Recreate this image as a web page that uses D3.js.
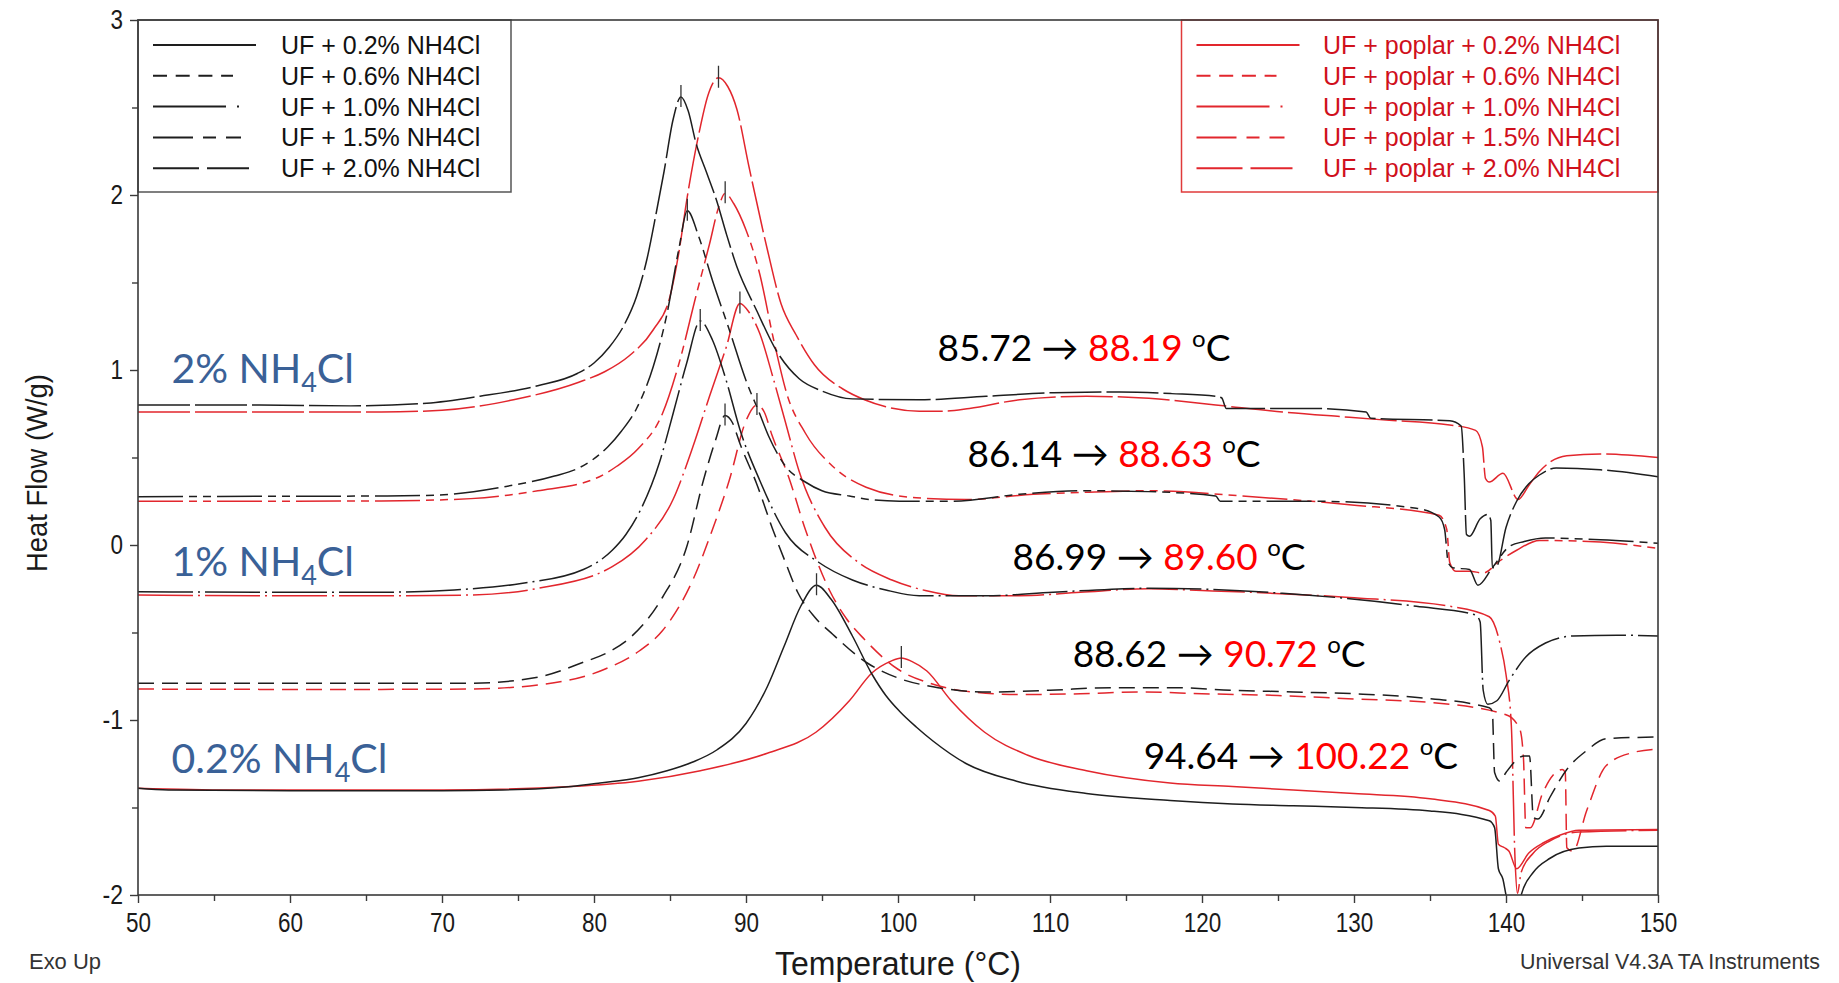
<!DOCTYPE html>
<html>
<head>
<meta charset="utf-8">
<script src="https://cdn.jsdelivr.net/npm/d3@7"></script>
<style>
  body { margin: 0; background: #fff; }
  svg { display: block; }
</style>
</head>
<body>
<div id="chart"></div>
<script>
// ---- data: [temperature °C, heat flow W/g] ----
const uf02 = [[50,-1.39],[52,-1.40],[60,-1.404],[70,-1.404],[74,-1.40],[78.5,-1.38],[80.4,-1.36],[82.9,-1.33],[84.8,-1.29],[86.5,-1.24],[88.1,-1.17],[90.0,-1.02],[91.4,-0.81],[92.5,-0.58],[93.6,-0.35],[94.64,-0.23],[95.6,-0.31],[97,-0.52],[98.3,-0.74],[99.2,-0.86],[100.1,-0.95],[101.2,-1.04],[102.3,-1.12],[104.5,-1.25],[107.8,-1.35],[112.4,-1.42],[117.9,-1.46],[122,-1.48],[126,-1.49],[130,-1.50],[135,-1.52],[138.9,-1.576],[139.25,-1.615],[139.5,-1.85],[139.8,-1.91],[140.0,-2.0],[140.3,-2.1],[140.8,-2.1],[141.0,-2.0],[141.8,-1.87],[142.9,-1.79],[144.8,-1.732],[146.6,-1.722],[150,-1.722]];
const uf06 = [[50,-0.79],[58,-0.79],[66,-0.79],[71.9,-0.79],[76.3,-0.755],[79.3,-0.67],[81,-0.61],[82.5,-0.52],[84.5,-0.30],[86.1,-0.01],[87.2,0.37],[88.0,0.60],[88.62,0.74],[89.1,0.70],[89.6,0.58],[90.7,0.35],[91.8,0.08],[92.6,-0.10],[93.4,-0.27],[94.5,-0.41],[95.7,-0.51],[97.9,-0.67],[100,-0.76],[102.3,-0.81],[106,-0.84],[110,-0.83],[114,-0.815],[118,-0.815],[122,-0.83],[126,-0.84],[130,-0.85],[134,-0.87],[138.9,-0.93],[139.1,-0.95],[139.25,-1.30],[139.6,-1.35],[140,-1.30],[141.2,-1.205],[141.55,-1.205],[141.8,-1.556],[142.1,-1.566],[142.9,-1.44],[144.0,-1.283],[145.3,-1.175],[146.6,-1.107],[150,-1.097]];
const uf10 = [[50,-0.267],[58,-0.27],[66,-0.27],[70.8,-0.257],[75.2,-0.22],[79.3,-0.14],[81.2,-0.03],[82.1,0.06],[83.0,0.19],[84.3,0.47],[85.2,0.75],[86.1,1.04],[86.99,1.28],[87.8,1.17],[88.7,0.94],[89.6,0.66],[90.9,0.37],[92.6,0.07],[94.8,-0.10],[97,-0.20],[99.2,-0.257],[101.4,-0.29],[105.8,-0.29],[110.2,-0.27],[116.5,-0.247],[125.3,-0.276],[134.1,-0.35],[138.0,-0.40],[138.3,-0.44],[138.5,-0.83],[138.8,-0.91],[139.4,-0.89],[140.2,-0.775],[141.3,-0.64],[142.6,-0.56],[144.4,-0.52],[147.3,-0.515],[150,-0.52]];
const uf15 = [[50,0.276],[58,0.278],[66,0.28],[69.7,0.285],[74.1,0.333],[77.4,0.394],[79.0,0.44],[80.9,0.56],[81.8,0.65],[82.8,0.78],[83.9,1.02],[84.8,1.32],[85.6,1.70],[86.14,1.91],[86.9,1.76],[87.8,1.51],[88.9,1.23],[90.0,0.94],[90.9,0.75],[91.5,0.62],[92.6,0.45],[93.9,0.36],[95,0.31],[96.8,0.28],[98.1,0.26],[100.1,0.25],[103.6,0.25],[108,0.29],[112.4,0.31],[116.5,0.305],[120.9,0.28],[121.2,0.25],[127.5,0.25],[134.1,0.21],[135.6,0.16],[135.96,0.09],[136.2,-0.10],[136.5,-0.13],[137.6,-0.14],[138.15,-0.23],[139.1,-0.13],[140.2,-0.01],[141.2,0.02],[142.6,0.04],[146.2,0.03],[150,0.01]];
const uf20 = [[50,0.80],[58,0.80],[64,0.795],[69,0.81],[72.5,0.85],[76.3,0.91],[78.9,0.98],[80.0,1.04],[81.0,1.13],[82.0,1.26],[82.8,1.42],[83.5,1.64],[84.1,1.90],[84.6,2.13],[85.2,2.43],[85.72,2.56],[86.2,2.48],[86.7,2.30],[87.4,2.13],[88.06,1.97],[88.7,1.78],[89.4,1.59],[90.7,1.34],[92.0,1.11],[93.5,0.95],[95,0.88],[97,0.835],[101.4,0.83],[105.8,0.85],[110.2,0.87],[114.6,0.875],[118,0.865],[121,0.848],[121.3,0.84],[121.6,0.78],[127.5,0.78],[130.8,0.76],[131.1,0.724],[136.3,0.71],[137.05,0.68],[137.25,0.40],[137.4,0.06],[137.6,0.05],[138.3,0.15],[138.8,0.175],[139.0,0.14],[139.1,-0.13],[139.4,-0.12],[140.0,0.10],[140.7,0.25],[141.5,0.35],[142.2,0.40],[143.3,0.44],[146.2,0.43],[150,0.39]];

const pop02 = [[50,-1.39],[56,-1.40],[70,-1.40],[78.5,-1.38],[82.9,-1.35],[87,-1.29],[91.4,-1.19],[94.6,-1.07],[96.8,-0.89],[98.3,-0.73],[99.5,-0.665],[100.22,-0.645],[100.9,-0.665],[101.9,-0.72],[103.5,-0.89],[105.7,-1.07],[108.5,-1.20],[112.4,-1.29],[117.9,-1.36],[122,-1.38],[126,-1.40],[130,-1.42],[135,-1.45],[138.9,-1.517],[139.3,-1.55],[139.5,-1.71],[139.9,-1.73],[140.2,-1.75],[140.7,-1.85],[141.5,-1.76],[142.5,-1.70],[143.5,-1.66],[144.8,-1.63],[150,-1.625]];
const pop06 = [[50,-0.823],[58,-0.825],[66,-0.825],[71.9,-0.823],[76.3,-0.80],[80.7,-0.71],[82.9,-0.61],[84.5,-0.49],[86.5,-0.20],[87.8,0.09],[88.9,0.37],[90.0,0.71],[90.72,0.80],[91.2,0.76],[91.7,0.63],[92.8,0.39],[93.9,0.09],[94.7,-0.10],[95.5,-0.26],[96.6,-0.42],[97.8,-0.54],[100,-0.71],[102.1,-0.79],[104.4,-0.835],[108,-0.855],[112,-0.85],[116,-0.84],[120,-0.85],[125,-0.86],[130,-0.88],[135,-0.90],[140,-0.97],[140.9,-1.05],[141.15,-1.22],[141.3,-1.615],[141.6,-1.615],[142.4,-1.42],[143.7,-1.283],[143.9,-1.30],[144.0,-1.73],[144.4,-1.75],[145.3,-1.52],[146.6,-1.26],[148.4,-1.185],[150,-1.166]];
const pop10 = [[50,-0.286],[58,-0.29],[66,-0.29],[71.9,-0.286],[76.3,-0.248],[81.2,-0.124],[83.4,0.03],[85.2,0.26],[86.5,0.56],[87.6,0.85],[88.7,1.13],[89.60,1.38],[90.2,1.33],[90.9,1.21],[91.8,0.95],[92.6,0.70],[93.5,0.42],[95.2,0.10],[97.4,-0.10],[99.6,-0.20],[101.8,-0.26],[104,-0.29],[108,-0.29],[112,-0.27],[116.5,-0.25],[120,-0.26],[129.7,-0.30],[136.3,-0.35],[138.9,-0.41],[139.6,-0.56],[140.0,-0.74],[140.35,-1.03],[140.6,-1.81],[140.75,-1.99],[141.0,-1.87],[141.8,-1.76],[142.9,-1.69],[144.8,-1.64],[150,-1.63]];
const pop15 = [[50,0.25],[58,0.25],[66,0.252],[71.9,0.265],[76.3,0.31],[80.1,0.38],[81.5,0.45],[82.9,0.55],[84.5,0.75],[85.6,1.04],[86.7,1.42],[87.6,1.72],[88.2,1.93],[88.63,2.01],[89.2,1.95],[90.0,1.80],[90.9,1.55],[91.8,1.18],[92.7,0.86],[93.9,0.64],[95.7,0.45],[97.9,0.33],[101.2,0.27],[104.5,0.26],[108.9,0.29],[112,0.30],[116.5,0.31],[123.1,0.277],[129.7,0.23],[135.6,0.17],[136.1,0.09],[136.3,-0.10],[136.7,-0.15],[137.6,-0.15],[138.5,-0.16],[139.6,-0.09],[140.7,-0.03],[142.2,0.026],[146.2,0.017],[150,-0.02]];
const pop20 = [[50,0.76],[58,0.76],[66,0.76],[70,0.77],[74.7,0.83],[79.0,0.93],[80.7,0.99],[82.3,1.08],[83.9,1.23],[85.0,1.42],[85.6,1.68],[86.1,1.97],[86.9,2.35],[87.5,2.57],[88.19,2.67],[88.8,2.62],[89.4,2.49],[90.2,2.16],[91.4,1.69],[92.3,1.38],[93.3,1.20],[94.5,1.03],[96.4,0.89],[97.8,0.83],[99.2,0.79],[101.4,0.765],[103,0.765],[104.7,0.78],[108,0.83],[112.4,0.85],[116.5,0.838],[120.9,0.80],[125.3,0.76],[129.7,0.73],[131.9,0.715],[136.3,0.686],[138.0,0.655],[138.45,0.56],[138.65,0.38],[138.9,0.36],[139.8,0.41],[140.8,0.26],[141.5,0.34],[142.2,0.42],[144.0,0.51],[146.2,0.52],[150,0.50]];

const ufLabels = ["UF + 0.2% NH4Cl", "UF + 0.6% NH4Cl", "UF + 1.0% NH4Cl", "UF + 1.5% NH4Cl", "UF + 2.0% NH4Cl"];
const poplarLabels = ["UF + poplar + 0.2% NH4Cl", "UF + poplar + 0.6% NH4Cl", "UF + poplar + 1.0% NH4Cl", "UF + poplar + 1.5% NH4Cl", "UF + poplar + 2.0% NH4Cl"];
const ufPeaks = [94.64, 88.62, 86.99, 86.14, 85.72];
const poplarPeaks = [100.22, 90.72, 89.60, 88.63, 88.19];
const levelLabels = ["2%", "1%", "0.2%"];
const xTicks = [50, 60, 70, 80, 90, 100, 110, 120, 130, 140, 150];
const yTicks = [-2, -1, 0, 1, 2, 3];

// ---- layout ----
const width = 1839, height = 983;
const plot = { left: 138, right: 1658, top: 20, bottom: 895 };
const black = "#1e1e1e", red = "#e2262d";
const dashes = ["none", "16,8", "55,5,2,5", "45,6,8,6,8,6", "52,5"];
const legendDashes = [null, "14,8.7", "73,11,2,30", "40,10,13,10,15", "46,8"];
const legendLen = [103, 80, 88, 88, 96];
const sans = "'Liberation Sans', Arial, sans-serif";

const svg = d3.select("#chart")
  .append("svg")
  .attr("width", width)
  .attr("height", height)
  .style("background", "#fff");

const x = d3.scaleLinear().domain([50, 150]).range([plot.left, plot.right]);
const y = d3.scaleLinear().domain([-2, 3]).range([plot.bottom, plot.top]);

svg.append("clipPath").attr("id", "clip")
  .append("rect")
  .attr("x", plot.left).attr("y", plot.top)
  .attr("width", plot.right - plot.left).attr("height", plot.bottom - plot.top);

const line = d3.line()
  .x(d => x(d[0]))
  .y(d => y(d[1]))
  .curve(d3.curveMonotoneX);

const curves = svg.append("g").attr("clip-path", "url(#clip)").attr("fill", "none");

function drawSet(series, color, peaks) {
  series.forEach((s, i) => {
    curves.append("path")
      .attr("d", line(s))
      .attr("stroke", color)
      .attr("stroke-width", 1.5)
      .attr("stroke-dasharray", dashes[i]);
    // peak marker
    const p = peaks[i];
    const yp = d3.max(s.filter(d => Math.abs(d[0] - p) < 0.01), d => d[1]);
    curves.append("line")
      .attr("x1", x(p)).attr("x2", x(p))
      .attr("y1", y(yp) - 12).attr("y2", y(yp) + 10)
      .attr("stroke", "#333").attr("stroke-width", 1.3);
  });
}

drawSet([pop02, pop06, pop10, pop15, pop20], red, poplarPeaks);
drawSet([uf02, uf06, uf10, uf15, uf20], black, ufPeaks);

// ---- legends ----
function legend(x0, x1, labels, color, textColor, boxColor, textX) {
  const g = svg.append("g");
  g.append("rect")
    .attr("x", x0).attr("y", plot.top)
    .attr("width", x1 - x0).attr("height", 172)
    .attr("fill", "#fff")
    .attr("stroke", boxColor).attr("stroke-width", 1.5);
  labels.forEach((lab, i) => {
    const ly = 45 + i * 30.8;
    g.append("line")
      .attr("x1", x0 + 15).attr("x2", x0 + 15 + legendLen[i])
      .attr("y1", ly).attr("y2", ly)
      .attr("stroke", color).attr("stroke-width", 2)
      .attr("stroke-dasharray", legendDashes[i]);
    g.append("text")
      .attr("x", textX).attr("y", ly + 9)
      .attr("font-family", sans)
      .attr("font-size", 25)
      .attr("fill", textColor)
      .text(lab);
  });
}
legend(plot.left, 511, ufLabels, black, "#111", "#555", 281);
legend(1181.5, plot.right, poplarLabels, red, "#d0101c", "#e03a3a", 1323);

// ---- frame and axes ----
svg.append("rect")
  .attr("x", plot.left).attr("y", plot.top)
  .attr("width", plot.right - plot.left).attr("height", plot.bottom - plot.top)
  .attr("fill", "none").attr("stroke", "#3a3a3a").attr("stroke-width", 1.6);

const xAxis = svg.append("g")
  .attr("transform", `translate(0,${plot.bottom})`)
  .call(d3.axisBottom(x).tickValues(xTicks).tickSize(8).tickPadding(10).tickFormat(d => String(d)));
const xMinor = svg.append("g")
  .attr("transform", `translate(0,${plot.bottom})`)
  .call(d3.axisBottom(x).tickValues(d3.range(55, 150, 10)).tickSize(6).tickFormat(""));

const yAxis = svg.append("g")
  .attr("transform", `translate(${plot.left},0)`)
  .call(d3.axisLeft(y).tickValues(yTicks).tickSize(8).tickPadding(7).tickFormat(d => String(d)));
const yMinor = svg.append("g")
  .attr("transform", `translate(${plot.left},0)`)
  .call(d3.axisLeft(y).tickValues([-1.5, -0.5, 0.5, 1.5, 2.5]).tickSize(6).tickFormat(""));

[xAxis, xMinor, yAxis, yMinor].forEach(a => {
  a.select(".domain").remove();
  a.selectAll(".tick line").attr("stroke", "#3a3a3a").attr("stroke-width", 1.4);
  a.selectAll(".tick text")
    .attr("font-family", sans)
    .attr("font-size", 27)
    .attr("fill", "#1a1a1a")
    .attr("lengthAdjust", "spacingAndGlyphs")
    .attr("textLength", function () {
      const s = this.textContent;
      return s.replace("-", "").length * 12.5 + (s.includes("-") ? 8 : 0);
    });
});

// axis titles
svg.append("text")
  .attr("transform", `translate(47,473) rotate(-90)`)
  .attr("text-anchor", "middle")
  .attr("font-family", sans)
  .attr("font-size", 30)
  .attr("fill", "#1a1a1a")
  .attr("lengthAdjust", "spacingAndGlyphs")
  .attr("textLength", 198)
  .text("Heat Flow (W/g)");

svg.append("text")
  .attr("x", (plot.left + plot.right) / 2).attr("y", 975)
  .attr("text-anchor", "middle")
  .attr("font-family", sans)
  .attr("font-size", 33)
  .attr("fill", "#1a1a1a")
  .attr("lengthAdjust", "spacingAndGlyphs")
  .attr("textLength", 246)
  .text("Temperature (°C)");

svg.append("text")
  .attr("x", 29).attr("y", 969)
  .attr("font-family", sans)
  .attr("font-size", 22)
  .attr("fill", "#333")
  .attr("lengthAdjust", "spacingAndGlyphs")
  .attr("textLength", 72)
  .text("Exo Up");

svg.append("text")
  .attr("x", 1820).attr("y", 969)
  .attr("text-anchor", "end")
  .attr("font-family", sans)
  .attr("font-size", 22)
  .attr("fill", "#333")
  .attr("lengthAdjust", "spacingAndGlyphs")
  .attr("textLength", 300)
  .text("Universal V4.3A TA Instruments");

// ---- concentration labels (blue) ----
const levelPos = [[52.2, 0.926], [52.2, -0.177], [52.2, -1.303]];
levelLabels.forEach((lab, i) => {
  const t = svg.append("text")
    .attr("x", x(levelPos[i][0])).attr("y", y(levelPos[i][1]))
    .attr("font-family", "Lato, 'Open Sans', sans-serif")
    .attr("font-size", 41)
    .attr("fill", "#3a6197");
  t.append("tspan").text(lab + " NH");
  t.append("tspan").attr("font-size", 27).attr("dy", 9).text("4");
  t.append("tspan").attr("dy", -9).text("Cl");
});

// ---- peak temperature annotations (2.0% at top, 0.2% at bottom) ----
const annoPos = [[102.6, 1.05], [104.58, 0.446], [107.54, -0.143], [111.49, -0.697], [116.16, -1.28]];
const ufTop = ufPeaks.slice().reverse();
const poplarTop = poplarPeaks.slice().reverse();
ufTop.forEach((p, k) => {
  const t = svg.append("text")
    .attr("x", x(annoPos[k][0])).attr("y", y(annoPos[k][1]))
    .attr("font-family", "Lato, 'Open Sans', sans-serif")
    .attr("font-size", 37)
    .attr("fill", "#000");
  t.append("tspan").text(p.toFixed(2) + " \u2192 ");
  t.append("tspan").attr("fill", "#ff0000").text(poplarTop[k].toFixed(2));
  t.append("tspan").text(" ");
  t.append("tspan").attr("font-size", 24).attr("dy", -14).text("o");
  t.append("tspan").attr("dy", 14).text("C");
});
</script>
</body>
</html>
